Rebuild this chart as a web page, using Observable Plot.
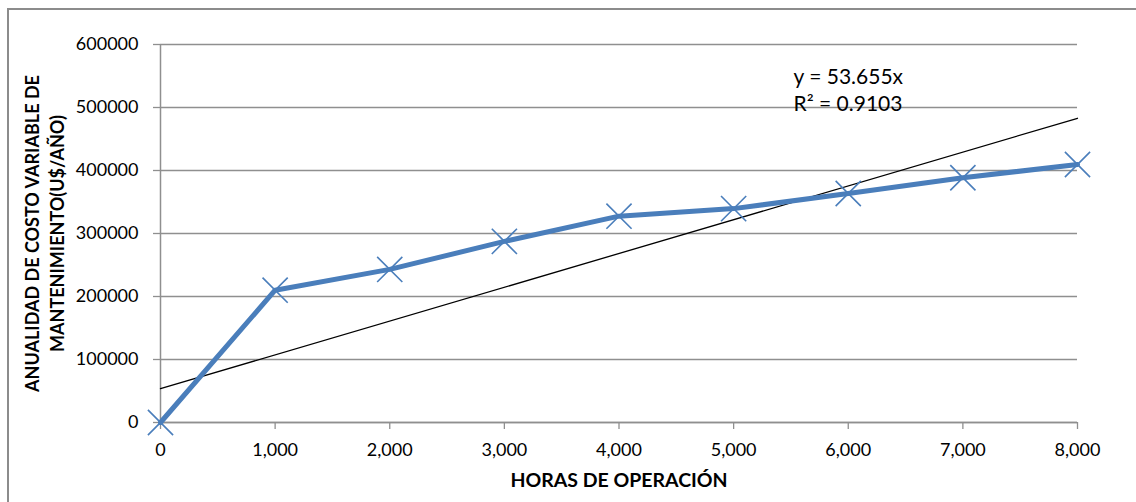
<!DOCTYPE html>
<html>
<head>
<meta charset="utf-8">
<script src="https://cdn.jsdelivr.net/npm/d3@7"></script>
<script src="https://cdn.jsdelivr.net/npm/@observablehq/plot@0.6"></script>
<style>
  html, body { margin: 0; padding: 0; background: #fff; }
  #wrap { position: relative; width: 1136px; height: 502px; overflow: hidden; }
  #border { position: absolute; left: 7px; top: 8px; width: 1200px; height: 600px;
            border-left: 2px solid #8c8c8c; border-top: 2px solid #8c8c8c; pointer-events: none; }
  svg { display: block; }
</style>
</head>
<body>
<div id="wrap"><div id="border"></div></div>
<script>
const hours = [0, 1000, 2000, 3000, 4000, 5000, 6000, 7000, 8000];
const cost = [0, 210000, 243000, 287500, 327500, 339500, 363500, 388500, 409500];
const trendHours = [0, 8000];
const trendCost = [53655, 482895];
const yTicks = [0, 100000, 200000, 300000, 400000, 500000, 600000];
const xLabel = "HORAS DE OPERACIÓN";
const yLabel = "ANUALIDAD DE COSTO VARIABLE DE\nMANTENIMIENTO(U$/AÑO)";
const eqLabel = "y = 53.655x\nR² = 0.9103";

const data = hours.map((h, i) => ({h, c: cost[i]}));
const trend = trendHours.map((h, i) => ({h, c: trendCost[i]}));

const blue = "#4a7ebb";
const gray = "#8f8f8f";

const chart = Plot.plot({
  width: 1136,
  height: 502,
  marginLeft: 160,
  marginRight: 59,
  marginTop: 44,
  marginBottom: 80,
  style: {fontFamily: "Lato", fontSize: "18px", color: "#000", background: "transparent"},
  x: {type: "linear", domain: [0, 8000]},
  y: {domain: [0, 600000]},
  marks: [
    Plot.gridY(yTicks, {stroke: gray, strokeOpacity: 1, strokeWidth: 1.3}),
    Plot.ruleX([0], {stroke: gray, strokeWidth: 1.5}),
    Plot.ruleY([0], {stroke: gray, strokeWidth: 1.5}),
    Plot.axisY(yTicks, {tickSize: 7, tickPadding: 15, tickFormat: d3.format("d"), stroke: gray, strokeWidth: 1.3, label: null, fill: "#000", fontSize: 18}),
    Plot.axisX(hours, {tickSize: 7, tickPadding: 14, tickFormat: d3.format(","), stroke: gray, strokeWidth: 1.3, label: null, fill: "#000", fontSize: 18}),
    Plot.line(trend, {x: "h", y: "c", stroke: "#000", strokeWidth: 1.3}),
    Plot.line(data, {x: "h", y: "c", stroke: blue, strokeWidth: 5, strokeLinejoin: "round"}),
    Plot.dot(data, {x: "h", y: "c", symbol: "times", r: 11.5, stroke: blue, strokeWidth: 1.6}),
    Plot.text([xLabel], {frameAnchor: "bottom", dy: 58, lineAnchor: "middle", fontWeight: "bold", fontSize: 19.5, fill: "#000"}),
    Plot.text([yLabel], {frameAnchor: "left", dx: -117, rotate: -90, textAnchor: "middle", lineAnchor: "middle", lineHeight: 1.42, fontWeight: "bold", fontSize: 18, fill: "#000"}),
    Plot.text([eqLabel], {frameAnchor: "top-left", dx: 633, dy: 20, lineAnchor: "top", textAnchor: "start", lineHeight: 1.3, fontSize: 21, fill: "#000"})
  ]
});
document.getElementById("wrap").prepend(chart);
</script>
</body>
</html>
